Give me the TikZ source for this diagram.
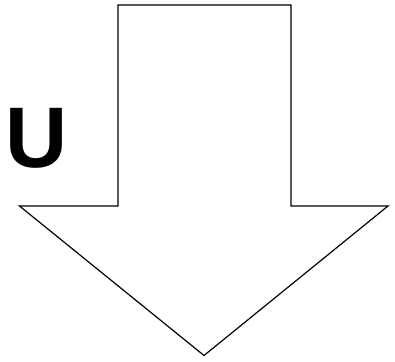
\documentclass[tikz,border=0pt]{standalone}
\usepackage{fontspec}
\setmainfont{Liberation Sans}
\usepackage{tikz}
\usetikzlibrary{positioning,calc}

\begin{document}
\begin{tikzpicture}[
    x=1pt, y=1pt,
    bigarrow/.style={draw, line width=1.2pt, line join=miter, fill=white},
    lbl/.style={font=\fontsize{86}{86}\selectfont\bfseries, inner sep=0pt, anchor=base}
  ]
    \useasboundingbox (0,0) rectangle (395,361);
    % corners of the arrow
    \coordinate (tl) at (118,356);
    \coordinate (tr) at (291,356);
    \coordinate (sr) at (291,155);
    \coordinate (hr) at (388,155);
    \coordinate (tip) at (204,5.5);
    \coordinate (hl) at (19.5,155);
    \coordinate (sl) at (118,155);
    \draw[bigarrow] (tl) -- (tr) -- (sr) -- (hr) -- (tip) -- (hl) -- (sl) -- cycle;
    \node[lbl] (u) at (36.3,193) {U};
  \end{tikzpicture}
\end{document}
